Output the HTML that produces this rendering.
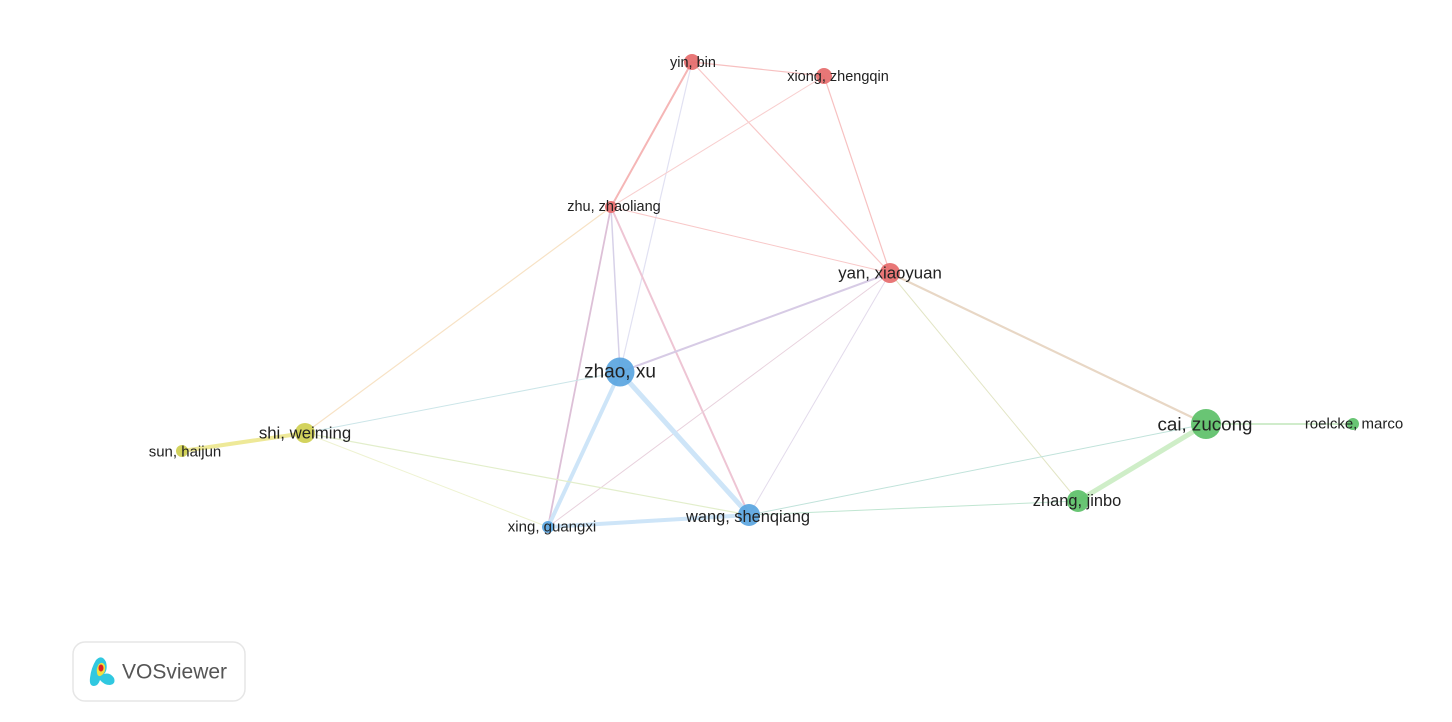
<!DOCTYPE html>
<html><head><meta charset="utf-8"><style>
body{margin:0;background:#fff;}
svg{display:block}
text{font-family:"Liberation Sans",Arial,sans-serif;fill:#222;}
</style></head><body>
<svg width="1452" height="722" viewBox="0 0 1452 722" xmlns="http://www.w3.org/2000/svg">
<g fill="none" stroke-linecap="round" opacity="0.72">
<line x1="692" y1="62" x2="824" y2="76" stroke="#f4a8a8" stroke-width="1.2"/>
<line x1="692" y1="62" x2="611" y2="207" stroke="#f29a9a" stroke-width="2"/>
<line x1="692" y1="62" x2="620" y2="372" stroke="#d6d6ee" stroke-width="1.2"/>
<line x1="692" y1="62" x2="890" y2="273" stroke="#f6b3b3" stroke-width="1.2"/>
<line x1="824" y1="76" x2="611" y2="207" stroke="#f6bcbc" stroke-width="1"/>
<line x1="824" y1="76" x2="890" y2="273" stroke="#f4aaaa" stroke-width="1.2"/>
<line x1="611" y1="207" x2="890" y2="273" stroke="#f6b3b3" stroke-width="1"/>
<line x1="611" y1="207" x2="620" y2="372" stroke="#c8c0e0" stroke-width="1.5"/>
<line x1="611" y1="207" x2="548" y2="527" stroke="#d0a8c8" stroke-width="1.8"/>
<line x1="611" y1="207" x2="749" y2="515" stroke="#e8b0c4" stroke-width="2"/>
<line x1="611" y1="207" x2="305" y2="433" stroke="#f5d8b0" stroke-width="1.2"/>
<line x1="890" y1="273" x2="620" y2="372" stroke="#c8b8dc" stroke-width="2"/>
<line x1="890" y1="273" x2="548" y2="527" stroke="#e0c0d0" stroke-width="1"/>
<line x1="890" y1="273" x2="749" y2="515" stroke="#d8cce4" stroke-width="1"/>
<line x1="890" y1="273" x2="1206" y2="424" stroke="#e0c8b0" stroke-width="2.2"/>
<line x1="890" y1="273" x2="1078" y2="501" stroke="#d8dcb0" stroke-width="1"/>
<line x1="620" y1="372" x2="305" y2="433" stroke="#b8dce0" stroke-width="1"/>
<line x1="620" y1="372" x2="548" y2="527" stroke="#bcdcf6" stroke-width="4"/>
<line x1="620" y1="372" x2="749" y2="515" stroke="#bcdcf6" stroke-width="5"/>
<line x1="305" y1="433" x2="182" y2="451" stroke="#e8e070" stroke-width="4"/>
<line x1="305" y1="433" x2="749" y2="515" stroke="#d8e8b8" stroke-width="1.2"/>
<line x1="305" y1="433" x2="548" y2="527" stroke="#e8eec0" stroke-width="1"/>
<line x1="548" y1="527" x2="749" y2="515" stroke="#bcdcf6" stroke-width="4"/>
<line x1="749" y1="515" x2="1206" y2="424" stroke="#a8d8cc" stroke-width="1"/>
<line x1="749" y1="515" x2="1078" y2="501" stroke="#a8dcc0" stroke-width="1"/>
<line x1="1206" y1="424" x2="1078" y2="501" stroke="#bde8b4" stroke-width="5"/>
<line x1="1206" y1="424" x2="1353" y2="424" stroke="#a8dca0" stroke-width="1.5"/>
</g>
<g opacity="0.92">
<circle cx="692" cy="62" r="8" fill="#e66b6b"/>
<circle cx="824" cy="76" r="8" fill="#e66b6b"/>
<circle cx="611" cy="207" r="6" fill="#e66b6b"/>
<circle cx="890" cy="273" r="10" fill="#e66b6b"/>
<circle cx="620" cy="372" r="14.5" fill="#5aa5e0"/>
<circle cx="305" cy="433" r="10" fill="#cfcf50"/>
<circle cx="182" cy="451" r="6" fill="#cfcf50"/>
<circle cx="548" cy="527" r="6" fill="#5aa5e0"/>
<circle cx="749" cy="515" r="11" fill="#5aa5e0"/>
<circle cx="1206" cy="424" r="15" fill="#5cc068"/>
<circle cx="1353" cy="424" r="6" fill="#5cc068"/>
<circle cx="1078" cy="501" r="11" fill="#5cc068"/>
</g>
<g text-anchor="middle" dominant-baseline="central">
<text x="693" y="63" font-size="14.5">yin, bin</text>
<text x="838" y="77" font-size="14.5">xiong, zhengqin</text>
<text x="614" y="207" font-size="14.5">zhu, zhaoliang</text>
<text x="890" y="273" font-size="16.8">yan, xiaoyuan</text>
<text x="620" y="372" font-size="19">zhao, xu</text>
<text x="305" y="433" font-size="16.8">shi, weiming</text>
<text x="185" y="452" font-size="15">sun, haijun</text>
<text x="552" y="527" font-size="15">xing, guangxi</text>
<text x="748" y="517" font-size="16.4">wang, shenqiang</text>
<text x="1205" y="424" font-size="18.8">cai, zucong</text>
<text x="1354" y="424" font-size="15">roelcke, marco</text>
<text x="1077" y="501" font-size="16.4">zhang, jinbo</text>
</g>
<rect x="73" y="642" width="172" height="59" rx="12" fill="#fff" stroke="#e6e6e6" stroke-width="1.5"/>
<g>
<path d="M96 660 q6 -6 10 2 q2 8 -2 12 q6 -2 10 4 q2 6 -4 7 q-6 0 -10 -5 q-2 6 -6 6 q-5 0 -4 -8 q1 -10 6 -18z" fill="#30c8e0"/>
<path d="M99 664 q4 -3 6 2 q1 6 -3 9 q-4 3 -5 -2 q-1 -5 2 -9z" fill="#f0e040"/>
<ellipse cx="101" cy="668" rx="2.5" ry="3.5" fill="#e02020"/>
</g>
<text x="122" y="672" font-size="21" dominant-baseline="central" style="fill:#555">VOSviewer</text>
</svg>
</body></html>
